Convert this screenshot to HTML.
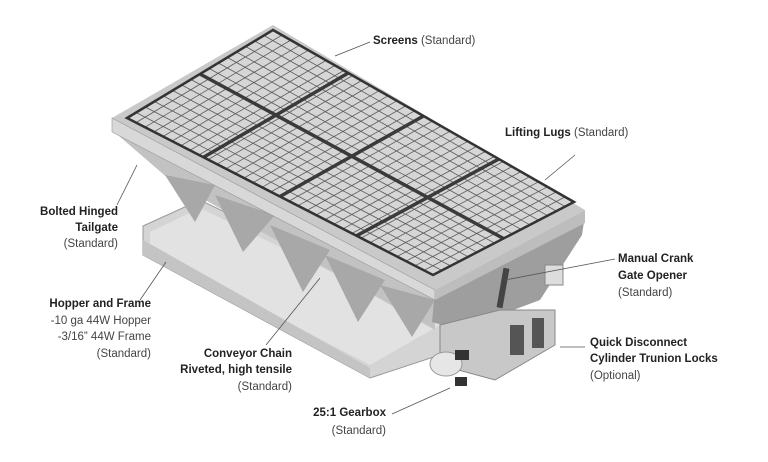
<!DOCTYPE html>
<html><head><style>
html,body{margin:0;padding:0;background:#fff;width:768px;height:462px;overflow:hidden}
svg{display:block}
text{font-family:"Liberation Sans",sans-serif;font-size:11.5px;fill:#222}
.b{font-weight:bold}
.n{fill:#444}
</style></head><body>
<svg id="s" width="768" height="462" viewBox="0 0 768 462">
<polygon points="143,226 200,200 470,330 470,345 370,378 143,255" fill="#d4d4d4" stroke="#999" stroke-width="1"/>
<polygon points="150,232 200,208 440,325 370,365 150,250" fill="#e2e2e2"/>
<polygon points="143,240 370,368 370,378 143,255" fill="#c4c4c4"/>
<polygon points="112,130 435,300 435,330 170,180" fill="#c2c2c2"/>
<polygon points="165,175 215,185 195,222" fill="#a8a8a8"/>
<polygon points="215,195 275,215 243,252" fill="#a8a8a8"/>
<polygon points="270,225 330,250 303,292" fill="#a8a8a8"/>
<polygon points="325,255 385,280 358,322" fill="#a8a8a8"/>
<polygon points="380,285 435,300 412,337" fill="#a8a8a8"/>
<polygon points="435,290 585,215 582,235 540,300 460,330 432,322" fill="#9e9e9e"/>
<polygon points="440,325 500,310 555,310 555,345 495,380 440,365" fill="#c8c8c8" stroke="#888"/>
<rect x="510" y="325" width="14" height="30" fill="#555"/>
<rect x="532" y="318" width="12" height="30" fill="#555"/>
<ellipse cx="446" cy="364" rx="16" ry="12" fill="#e6e6e6" stroke="#999"/>
<rect x="455" y="350" width="14" height="10" fill="#333"/>
<rect x="455" y="377" width="12" height="9" fill="#333"/>
<rect x="545" y="265" width="18" height="20" fill="#ddd" stroke="#888"/>
<rect x="500" y="268" width="6" height="40" fill="#444" transform="rotate(10 503 288)"/>
<polygon points="112,118 273,25 585,210 435,290" fill="#c9c9c9"/>
<polygon points="112,118 435,290 435,300 112,132" fill="#d8d8d8" stroke="#999" stroke-width=".6"/>
<polygon points="435,290 585,210 585,223 435,300" fill="#bdbdbd"/>
<polygon id="scr" points="127,118 273,30 574,202 433,275" fill="#d6d6d6"/>
<g id="g" stroke="#5a5a5a" stroke-width=".8" fill="none"></g>
<g id="bars" stroke="#3a3a3a" stroke-width="3.5" fill="none"></g>
<polygon points="127,118 273,30 574,202 433,275" fill="none" stroke="#333" stroke-width="2.5"/>
<g stroke="#555" stroke-width=".8">
<line x1="370" y1="42" x2="335" y2="56"/>
<line x1="575" y1="155" x2="545" y2="180"/>
<line x1="137" y1="165" x2="117" y2="205"/>
<line x1="166" y1="262" x2="140" y2="300"/>
<line x1="320" y1="278" x2="266" y2="345"/>
<line x1="615" y1="259" x2="505" y2="280"/>
<line x1="585" y1="347" x2="560" y2="347"/>
<line x1="450" y1="388" x2="392" y2="414"/>
</g>
<text x="373" y="44"><tspan class="b">Screens</tspan><tspan class="n"> (Standard)</tspan></text>
<text x="505" y="136"><tspan class="b">Lifting Lugs</tspan><tspan class="n"> (Standard)</tspan></text>
<text x="118" y="215" text-anchor="end" class="b">Bolted Hinged</text>
<text x="118" y="231" text-anchor="end" class="b">Tailgate</text>
<text x="118" y="247" text-anchor="end" class="n">(Standard)</text>
<text x="151" y="307" text-anchor="end" class="b">Hopper and Frame</text>
<text x="151" y="324" text-anchor="end" class="n">-10 ga 44W Hopper</text>
<text x="151" y="340" text-anchor="end" class="n">-3/16” 44W Frame</text>
<text x="151" y="357" text-anchor="end" class="n">(Standard)</text>
<text x="292" y="357" text-anchor="end" class="b">Conveyor Chain</text>
<text x="292" y="373" text-anchor="end" class="b">Riveted, high tensile</text>
<text x="292" y="390" text-anchor="end" class="n">(Standard)</text>
<text x="618" y="262" class="b">Manual Crank</text>
<text x="618" y="279" class="b">Gate Opener</text>
<text x="618" y="296" class="n">(Standard)</text>
<text x="590" y="346" class="b">Quick Disconnect</text>
<text x="590" y="362" class="b">Cylinder Trunion Locks</text>
<text x="590" y="379" class="n">(Optional)</text>
<text x="386" y="416" text-anchor="end" class="b">25:1 Gearbox</text>
<text x="386" y="434" text-anchor="end" class="n">(Standard)</text>
</svg>
<script>
var A=[127,118],B=[273,30],C=[574,202],D=[433,275];
function P(u,v){var x=(1-u)*(1-v)*A[0]+u*(1-v)*D[0]+u*v*C[0]+(1-u)*v*B[0];
var y=(1-u)*(1-v)*A[1]+u*(1-v)*D[1]+u*v*C[1]+(1-u)*v*B[1];return x.toFixed(1)+","+y.toFixed(1);}
var g=document.getElementById("g"),h="";
var NU=34,NV=16,i;
for(i=1;i<NU;i++){h+='<polyline points="'+P(i/NU,0)+' '+P(i/NU,1)+'"/>';}
for(i=1;i<NV;i++){h+='<polyline points="'+P(0,i/NV)+' '+P(1,i/NV)+'"/>';}
g.innerHTML=h;
var b="";
b+='<polyline points="'+P(0,.5)+' '+P(1,.5)+'"/>';
[.25,.5,.75].forEach(function(u){b+='<polyline points="'+P(u,0)+' '+P(u,1)+'"/>';});
document.getElementById("bars").innerHTML=b;
</script>
</body></html>
